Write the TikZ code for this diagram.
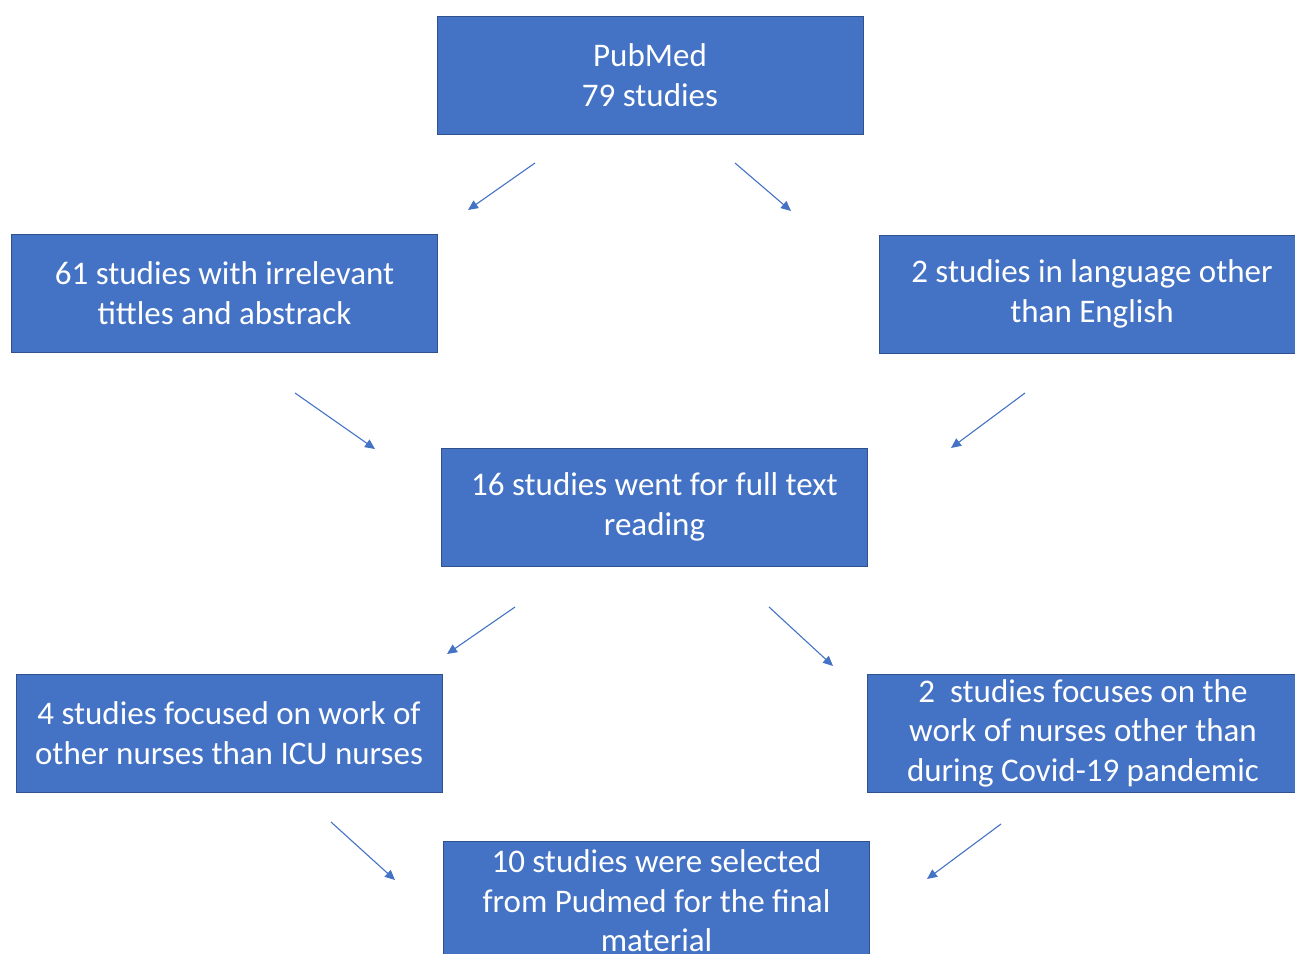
\documentclass[tikz,border=0pt]{standalone}
\usepackage{fontspec}
\setmainfont{Carlito}
\usetikzlibrary{arrows.meta}
\definecolor{boxfill}{HTML}{4472C4}
\definecolor{boxline}{HTML}{2F528F}
\definecolor{arrowc}{HTML}{4472C4}
\begin{document}
\begin{tikzpicture}[x=1pt,y=-1pt,
  fbox/.style={draw=boxline,fill=boxfill,line width=1pt,minimum width=426pt,minimum height=118pt,
    text=white,align=center,inner sep=0pt,font=\fontsize{33}{39.5}\selectfont},
  farrow/.style={draw=arrowc,line width=1.1pt,-{Triangle[length=10pt,width=9pt]}}]
\useasboundingbox (0,0) rectangle (1295,953);
\clip (0,0) rectangle (1295,953);
\node[fbox] (pub) at (650,75) {PubMed\\79 studies};
\node[fbox] (irr) at (224.5,293) {61 studies with irrelevant\\tittles and abstrack};
\node[fbox] (lang) at (1092,294) {2 studies in language other\\than English};
\node[fbox] (full) at (654.5,507) {16 studies went for full text\\reading};
\node[fbox] (icu) at (229,733) {4 studies focused on work of\\other nurses than ICU nurses};
\node[fbox,minimum width=432pt] (covid) at (1083,733) {2\ \ studies focuses on the\\work of nurses other than\\during Covid-19 pandemic};
\node[fbox,minimum height=120pt] (sel) at (656.5,901) {10 studies were selected\\from Pudmed for the final\\material};
\coordinate (a1s) at (535,163); \coordinate (a1e) at (468,210);
\coordinate (a2s) at (735,163); \coordinate (a2e) at (791,211);
\coordinate (a3s) at (295,393); \coordinate (a3e) at (375,449);
\coordinate (a4s) at (1025,393); \coordinate (a4e) at (951,448);
\coordinate (a5s) at (515,607); \coordinate (a5e) at (447,654);
\coordinate (a6s) at (769,607); \coordinate (a6e) at (833,666);
\coordinate (a7s) at (331,822); \coordinate (a7e) at (395,880);
\coordinate (a8s) at (1001,824); \coordinate (a8e) at (927,879);
\draw[farrow] (a1s) -- (a1e);
\draw[farrow] (a2s) -- (a2e);
\draw[farrow] (a3s) -- (a3e);
\draw[farrow] (a4s) -- (a4e);
\draw[farrow] (a5s) -- (a5e);
\draw[farrow] (a6s) -- (a6e);
\draw[farrow] (a7s) -- (a7e);
\draw[farrow] (a8s) -- (a8e);
\end{tikzpicture}
\end{document}
